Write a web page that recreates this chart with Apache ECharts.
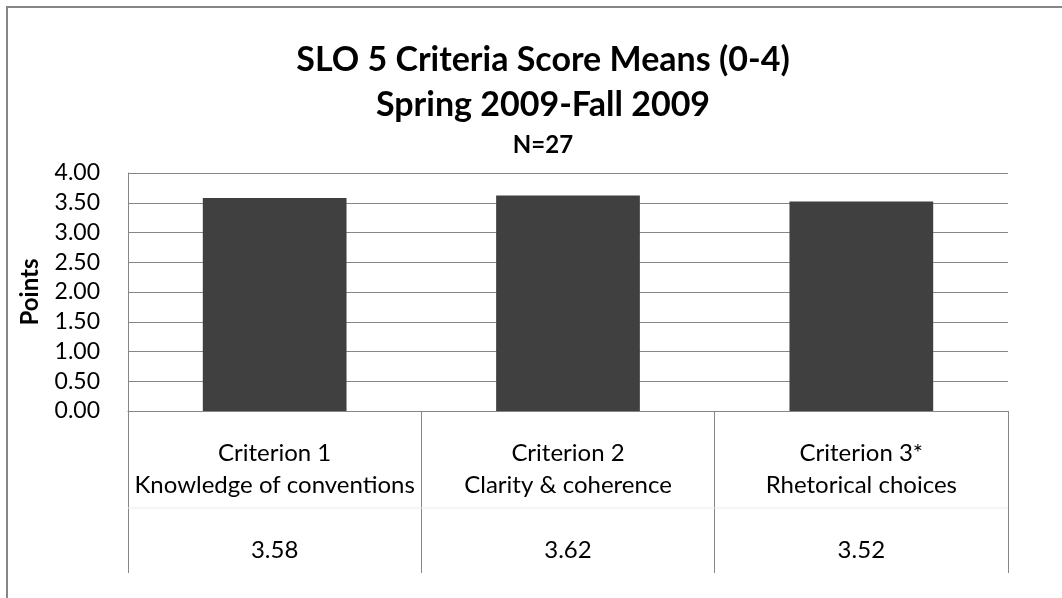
<!DOCTYPE html>
<html>
<head>
<meta charset="utf-8">
<script src="https://cdn.jsdelivr.net/npm/echarts@6/dist/echarts.min.js"></script>
<style>
html,body{margin:0;padding:0;background:#fff;}
#chart{width:1062px;height:598px;}
</style>
</head>
<body>
<div id="chart"></div>
<script>
var titleLines = ['SLO 5 Criteria Score Means (0-4)', 'Spring 2009-Fall 2009', 'N=27'];
var categories = ['Criterion 1\nKnowledge of conventions', 'Criterion 2\nClarity & coherence', 'Criterion 3*\nRhetorical choices'];
var values = [3.58, 3.62, 3.52];
var yTicks = [0, 0.5, 1, 1.5, 2, 2.5, 3, 3.5, 4];
var yAxisName = 'Points';

var FONT = 'Lato';
var chart = echarts.init(document.getElementById('chart'));
chart.setOption({
  animation: false,
  backgroundColor: '#fff',
  textStyle: { fontFamily: FONT, color: '#000' },
  title: [
    { text: titleLines[0], left: 538, top: 35, textAlign: 'center',
      textStyle: { fontFamily: FONT, fontSize: 34, fontWeight: 'bold', color: '#000', lineHeight: 40 } },
    { text: titleLines[1], left: 538, top: 80, textAlign: 'center',
      textStyle: { fontFamily: FONT, fontSize: 34, fontWeight: 'bold', color: '#000', lineHeight: 40 } },
    { text: titleLines[2], left: 538, top: 126, textAlign: 'center',
      textStyle: { fontFamily: FONT, fontSize: 24, fontWeight: 'bold', color: '#000', lineHeight: 28 } }
  ],
  grid: { left: 128, right: 54, top: 173, bottom: 187, containLabel: false },
  xAxis: {
    type: 'category',
    data: categories,
    axisLine: { show: true, lineStyle: { color: '#868686', width: 1 } },
    axisTick: { show: true, length: 162, inside: false, alignWithLabel: false, lineStyle: { color: '#868686', width: 1 } },
    axisLabel: {
      interval: 0,
      margin: 26,
      formatter: function (v, i) {
        var parts = v.split('\n');
        return '{a|' + parts[0] + '}\n{a|' + parts[1] + '}\n{g|}\n{v|' + values[i].toFixed(2) + '}';
      },
      rich: {
        a: { fontFamily: FONT, fontSize: 24, lineHeight: 32, color: '#000', align: 'center' },
        g: { fontSize: 10, lineHeight: 33 },
        v: { fontFamily: FONT, fontSize: 24, lineHeight: 32, color: '#000', align: 'center' }
      }
    }
  },
  yAxis: {
    type: 'value',
    min: 0, max: 4, interval: 0.5,
    name: yAxisName,
    nameLocation: 'middle',
    nameGap: 86,
    nameRotate: 90,
    nameTextStyle: { fontFamily: FONT, fontSize: 24, fontWeight: 'bold', color: '#000' },
    axisLine: { show: true, lineStyle: { color: '#868686', width: 1 } },
    axisTick: { show: false },
    splitLine: { show: true, lineStyle: { color: '#868686', width: 1 } },
    axisLabel: {
      margin: 28,
      fontFamily: FONT, fontSize: 23, color: '#000',
      formatter: function (v) { return v.toFixed(2); }
    }
  },
  series: [{
    type: 'bar',
    data: values,
    barWidth: '49%',
    itemStyle: { color: '#404040' }
  }],
  graphic: [
    { type: 'rect', shape: { x: 7, y: 7, width: 1200, height: 800 },
      style: { fill: 'none', stroke: '#868686', lineWidth: 2 }, silent: true, z: 100 },
    { type: 'line', shape: { x1: 128, y1: 508, x2: 1008, y2: 508 },
      style: { stroke: '#ececec', lineWidth: 1 }, silent: true, z: 1 }
  ]
});
</script>
</body>
</html>
